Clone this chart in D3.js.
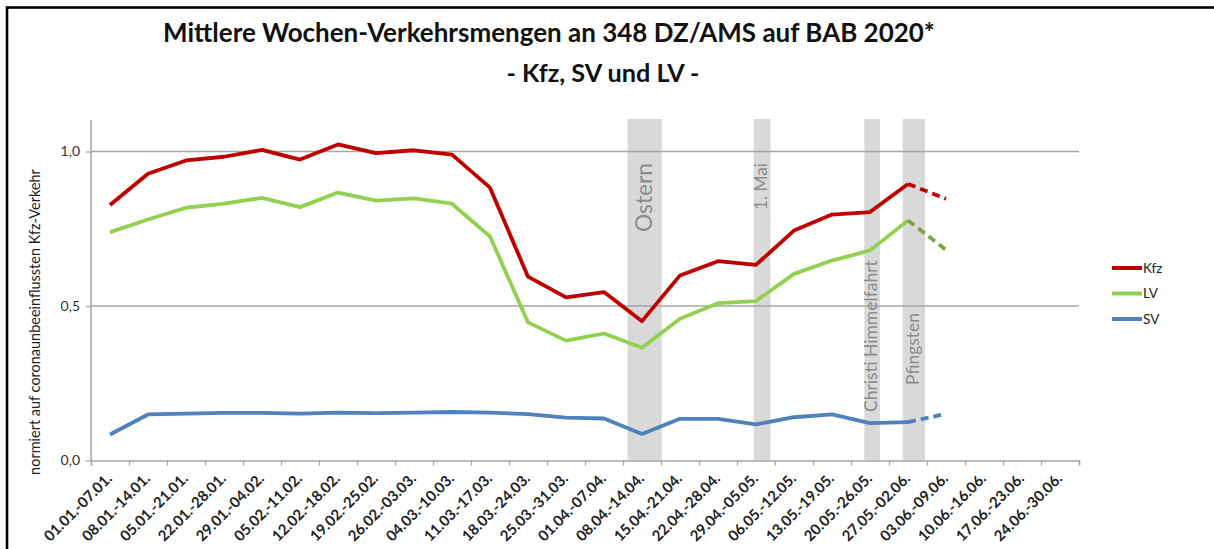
<!DOCTYPE html>
<html>
<head>
<meta charset="utf-8">
<script src="https://cdn.jsdelivr.net/npm/d3@7"></script>
<style>
  body { margin: 0; background: #fff; }
  text { font-family: Lato, "Open Sans", sans-serif; }
</style>
</head>
<body>
<svg id="chart" width="1214" height="549"></svg>
<script>
// weekly periods 2020 (labels as printed, incl. the "05.01." typo)
const weeks = ["01.01.-07.01.", "08.01.-14.01.", "05.01.-21.01.", "22.01.-28.01.", "29.01.-04.02.",
  "05.02.-11.02.", "12.02.-18.02.", "19.02.-25.02.", "26.02.-03.03.", "04.03.-10.03.",
  "11.03.-17.03.", "18.03.-24.03.", "25.03.-31.03.", "01.04.-07.04.", "08.04.-14.04.",
  "15.04.-21.04.", "22.04.-28.04.", "29.04.-05.05.", "06.05.-12.05.", "13.05.-19.05.",
  "20.05.-26.05.", "27.05.-02.06.", "03.06.-09.06.", "10.06.-16.06.", "17.06.-23.06.",
  "24.06.-30.06."];

// normalised values, last point = estimate (dashed)
const kfz = [0.827, 0.928, 0.971, 0.983, 1.005, 0.974, 1.023, 0.995, 1.004, 0.990,
  0.883, 0.595, 0.528, 0.545, 0.451, 0.599, 0.645, 0.633, 0.744, 0.796, 0.804, 0.895, 0.847];
const lv = [0.739, 0.780, 0.818, 0.831, 0.850, 0.820, 0.867, 0.841, 0.848, 0.831,
  0.725, 0.447, 0.388, 0.411, 0.365, 0.459, 0.509, 0.516, 0.604, 0.647, 0.680, 0.777, 0.682];
const sv = [0.084, 0.149, 0.152, 0.154, 0.154, 0.152, 0.155, 0.153, 0.155, 0.157,
  0.155, 0.150, 0.139, 0.136, 0.086, 0.135, 0.135, 0.117, 0.140, 0.149, 0.121, 0.124, 0.151];
const measured = 22; // number of measured weeks, rest is estimated

const yTicks = [0, 0.5, 1.0];

// holidays in week units (from / to along the axis)
const holidays = [
  {name: "Ostern", from: 14.12, to: 15.02},
  {name: "1. Mai", from: 17.44, to: 17.88},
  {name: "Christi Himmelfahrt", from: 20.35, to: 20.76},
  {name: "Pfingsten", from: 21.36, to: 21.95}
];

const series = [
  {name: "Kfz", values: kfz, color: "#C00000", dash: "#C00000"},
  {name: "LV", values: lv, color: "#92D050", dash: "#76A840"},
  {name: "SV", values: sv, color: "#4F81BD", dash: "#4F81BD"}
];

const svg = d3.select("#chart");

// frame
svg.append("rect").attr("x", 7).attr("y", 7.5).attr("width", 1220).attr("height", 560)
  .attr("fill", "none").attr("stroke", "#000").attr("stroke-width", 2.6);

const pLeft = 91, pRight = 1079, pTop = 120, pBottom = 460.5;
const x = d3.scaleBand().domain(weeks).range([pLeft, pRight]).padding(0);
const xw = d3.scaleLinear().domain([0, weeks.length]).range([pLeft, pRight]);
const y = d3.scaleLinear().domain([0, 1]).range([pBottom, 151.5]);

function fit(sel, w) {
  const fs = parseFloat(sel.attr("font-size"));
  const l = sel.node().getComputedTextLength();
  if (l > 0) sel.attr("font-size", fs * w / l);
}

// title
const t1 = svg.append("text").attr("x", 549).attr("y", 41.5).attr("text-anchor", "middle")
  .attr("font-size", 24).attr("font-weight", "bold").attr("fill", "#111")
  .text("Mittlere Wochen-Verkehrsmengen an 348 DZ/AMS auf BAB 2020*");
fit(t1, 772);
const t2 = svg.append("text").attr("x", 603).attr("y", 81.5).attr("text-anchor", "middle")
  .attr("font-size", 24).attr("font-weight", "bold").attr("fill", "#111")
  .text("- Kfz, SV und LV -");
fit(t2, 193);

// holiday bands
svg.append("g").selectAll("rect").data(holidays).enter().append("rect")
  .attr("x", d => xw(d.from)).attr("width", d => xw(d.to) - xw(d.from))
  .attr("y", 119).attr("height", pBottom - 119)
  .attr("fill", "#D9D9D9");

// gridlines
svg.append("g").selectAll("line").data(yTicks.filter(v => v > 0)).enter().append("line")
  .attr("x1", pLeft).attr("x2", pRight).attr("y1", d => y(d)).attr("y2", d => y(d))
  .attr("stroke", "#A6A6A6").attr("stroke-width", 1.5);

// holiday labels
const labelPos = {"Ostern": [644, 232, 69], "1. Mai": [761, 210, 47],
  "Christi Himmelfahrt": [871, 412, 152], "Pfingsten": [913, 385, 72]};
holidays.forEach(h => {
  const p = labelPos[h.name];
  const t = svg.append("text")
    .attr("transform", `translate(${p[0]},${p[1]}) rotate(-90)`)
    .attr("dy", "0.36em").attr("font-size", 16).attr("fill", "#8C8C8C")
    .text(h.name);
  fit(t, p[2]);
});

// y axis
const yAxis = svg.append("g").attr("transform", `translate(${pLeft},0)`)
  .call(d3.axisLeft(y).tickValues(yTicks).tickSize(5).tickPadding(6)
    .tickFormat(d => d3.format(".1f")(d).replace(".", ",")));
yAxis.select(".domain").remove();
yAxis.selectAll("line").attr("stroke", "#A6A6A6").attr("stroke-width", 1.3);
yAxis.selectAll("text").attr("font-size", 14).attr("fill", "#333")
  .attr("font-family", "Lato, sans-serif");
svg.append("line").attr("x1", pLeft).attr("x2", pLeft).attr("y1", pTop).attr("y2", pBottom)
  .attr("stroke", "#A6A6A6").attr("stroke-width", 1.5);

// x axis (ticks between weeks)
const xAxis = svg.append("g").attr("transform", `translate(0,${pBottom})`)
  .call(d3.axisBottom(xw).tickValues(d3.range(weeks.length + 1)).tickSize(5).tickFormat(""));
xAxis.select(".domain").attr("stroke", "#A6A6A6").attr("stroke-width", 1.5);
xAxis.selectAll("line").attr("stroke", "#A6A6A6").attr("stroke-width", 1.3);

svg.append("g").selectAll("text").data(weeks).enter().append("text")
  .attr("transform", d => `translate(${x(d) + x.bandwidth() / 2 + 3},${pBottom + 19}) rotate(-45)`)
  .attr("text-anchor", "end").attr("font-size", 12.5).attr("font-weight", "bold")
  .attr("fill", "#222")
  .text(d => d)
  .each(function() { fit(d3.select(this), 89); });

// y axis title
const yt = svg.append("text").attr("transform", "translate(35,322) rotate(-90)")
  .attr("text-anchor", "middle").attr("dy", "0.36em").attr("font-size", 12.5).attr("fill", "#222")
  .text("normiert auf coronaunbeeinflussten Kfz-Verkehr");
fit(yt, 306);

// series
const line = d3.line()
  .x(d => x(weeks[d.i]) + x.bandwidth() / 2)
  .y(d => y(d.v));

series.forEach(s => {
  const pts = s.values.map((v, i) => ({i, v}));
  svg.append("path").datum(pts.slice(0, measured))
    .attr("d", line).attr("fill", "none")
    .attr("stroke", s.color).attr("stroke-width", 3.8)
    .attr("stroke-linejoin", "round");
  svg.append("path").datum(pts.slice(measured - 1))
    .attr("d", line).attr("fill", "none")
    .attr("stroke", s.dash).attr("stroke-width", 3.8)
    .attr("stroke-dasharray", "8,5");
});

// legend
const lg = svg.append("g").selectAll("g").data(series).enter().append("g")
  .attr("transform", (d, i) => `translate(1112,${268 + i * 25.5})`);
lg.append("line").attr("x1", 0).attr("x2", 30)
  .attr("stroke", d => d.color).attr("stroke-width", 4);
lg.append("text").attr("x", 31).attr("dy", "0.36em").attr("font-size", 13.5).attr("fill", "#222")
  .text(d => d.name);
</script>
</body>
</html>
